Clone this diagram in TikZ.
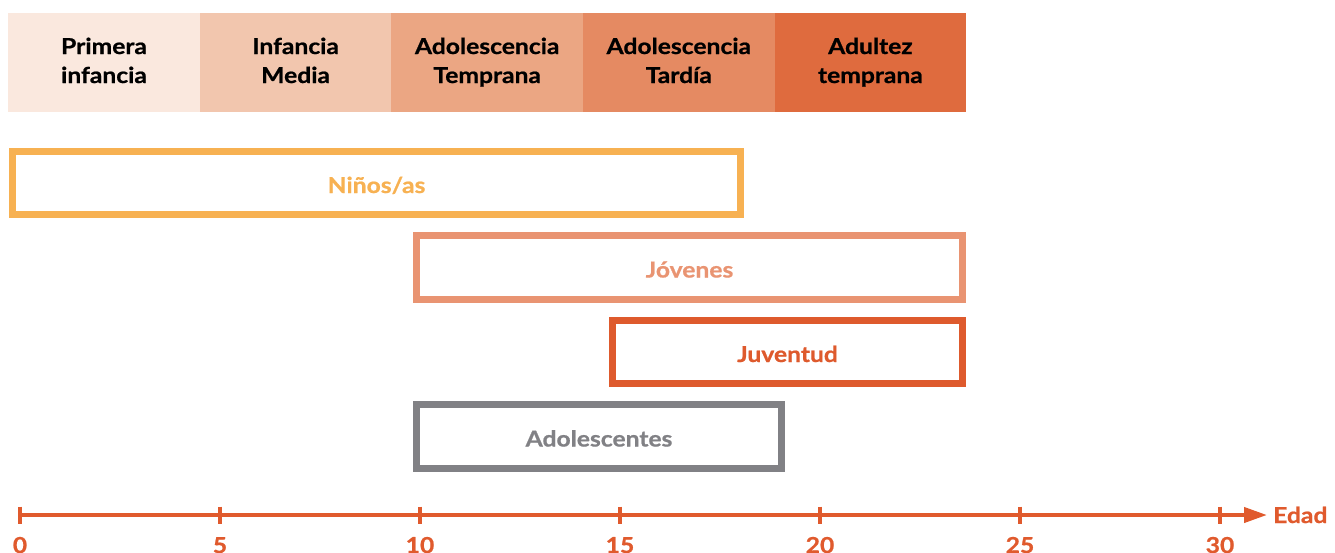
\documentclass[tikz,border=0pt]{standalone}
\usepackage{fontspec}
\setmainfont{Lato}[BoldFeatures={FakeStretch=1.12,FakeBold=0.8}]
\usetikzlibrary{arrows.meta}
\definecolor{cellA}{HTML}{FAE8DE}
\definecolor{cellB}{HTML}{F2C6AE}
\definecolor{cellC}{HTML}{EBA683}
\definecolor{cellD}{HTML}{E58A62}
\definecolor{cellE}{HTML}{DF6B3E}
\definecolor{ninos}{HTML}{F7B152}
\definecolor{jovenes}{HTML}{E99472}
\definecolor{juventud}{HTML}{DE5A2D}
\definecolor{adolgray}{HTML}{818185}
\definecolor{axisorange}{HTML}{E05A2D}
\begin{document}
\begin{tikzpicture}[x=1pt,y=-1pt,
  cell/.style={fill=#1, draw=none, minimum width=191.6pt, minimum height=99pt, inner sep=0pt, anchor=north west},
  celltext/.style={anchor=base, inner sep=0pt, font=\fontsize{22}{29}\selectfont\bfseries, text=black},
  band/.style={draw=#1, line width=7pt, inner sep=0pt, text=#1, font=\fontsize{22}{26}\selectfont\bfseries, text height=20pt, text depth=0pt},
  axisline/.style={draw=axisorange, line width=4pt, -{Triangle[length=23pt,width=15pt]}},
  tickmark/.style={draw=axisorange, line width=3.5pt},
  ticklabel/.style={anchor=base, inner sep=0pt, text=axisorange, font=\fontsize{22}{26}\selectfont\bfseries}
]
\useasboundingbox (0,0) rectangle (1335,552);

% top row of stages
\node[cell=cellA] (c1) at (8,13) {};
\node[cell=cellB] (c2) at (199.6,13) {};
\node[cell=cellC] (c3) at (391.2,13) {};
\node[cell=cellD] (c4) at (582.8,13) {};
\node[cell=cellE] (c5) at (774.4,13) {};
\foreach \c/\a/\b in {c1/Primera/infancia, c2/Infancia/Media, c3/Adolescencia/Temprana, c4/Adolescencia/Tardía, c5/Adultez/temprana}{
  \node[celltext] (\c t) at ([yshift=-41pt]\c.north) {\begin{tabular}[t]{@{}c@{}}\a\\\b\end{tabular}};
}

% bands
\node[band=ninos, minimum width=728pt, minimum height=63pt] (ninosbox) at (376.5,183) {Niños/as};
\node[band=jovenes, minimum width=546pt, minimum height=64pt] (jovenesbox) at (689.5,267.5) {Jóvenes};
\node[band=juventud, minimum width=350pt, minimum height=63pt] (juventudbox) at (787.5,352) {Juventud};
\node[band=adolgray, minimum width=365pt, minimum height=64pt] (adolbox) at (599,436.5) {Adolescentes};

% axis
\coordinate (ax0) at (20,515);
\coordinate (axend) at (1267,515);
\draw[axisline] (ax0) -- (axend);
\foreach \k/\n in {0/0,1/5,2/10,3/15,4/20,5/25,6/30}{
  \coordinate (t\k) at (20+200*\k,515);
  \draw[tickmark] ([yshift=8.5pt]t\k) -- ([yshift=-8.5pt]t\k);
  \node[ticklabel] (l\k) at ([yshift=-38pt]t\k) {\n};
}
\node[anchor=base west, inner sep=0pt, text=axisorange, font=\fontsize{22}{26}\selectfont\bfseries] (edad) at (1273,523) {Edad};
\end{tikzpicture}
\end{document}
